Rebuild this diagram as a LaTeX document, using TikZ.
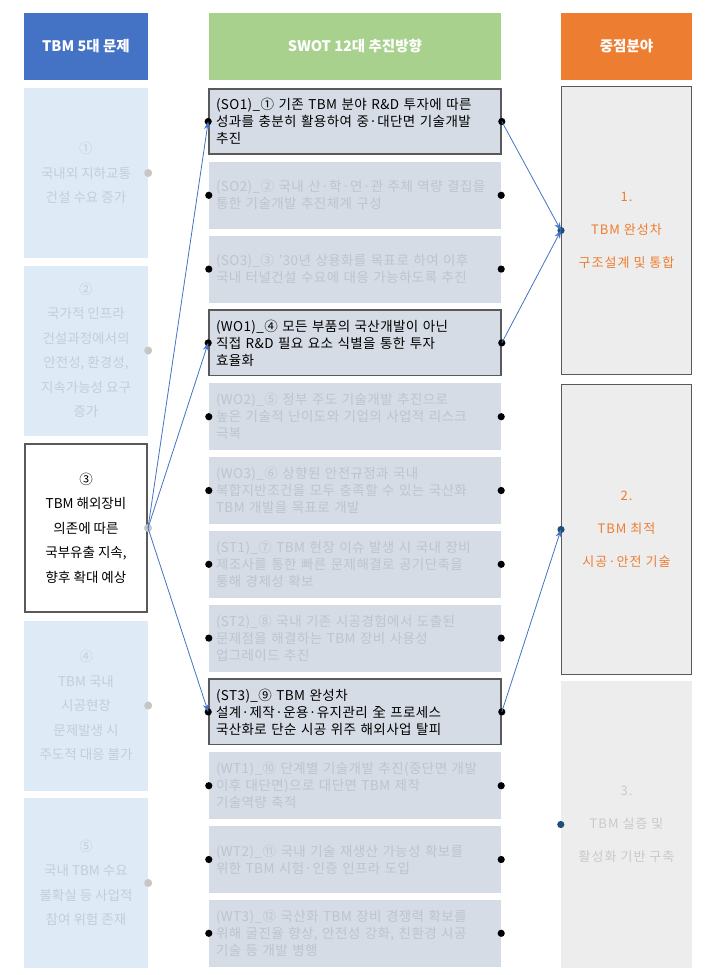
\documentclass[tikz,border=0pt]{standalone}
\usepackage{fontspec}
\setmainfont{Noto Sans CJK KR}
\usepackage{xcolor}
\usepackage{tikz}
\usetikzlibrary{arrows.meta}

\definecolor{hdrblue}{HTML}{4472C4}
\definecolor{hdrgreen}{HTML}{A9D18E}
\definecolor{hdrorange}{HTML}{ED7D31}
\definecolor{probfill}{HTML}{DEEBF7}
\definecolor{probfade}{HTML}{C4CDD8}
\definecolor{swotfill}{HTML}{D6DCE5}
\definecolor{swotfade}{HTML}{BEC4CD}
\definecolor{areafill}{HTML}{EDEDED}
\definecolor{areafade}{HTML}{C9C9C9}
\definecolor{keyline}{HTML}{595959}
\definecolor{areadot}{HTML}{1F4E79}

\tikzset{
  hdr/.style={minimum height=67pt, inner sep=0pt, text=white,
    font=\fontsize{14.5}{16}\selectfont\bfseries},
  probbox/.style={fill=probfill, minimum width=124pt, minimum height=170pt,
    inner sep=0pt, align=center, text=probfade,
    font=\fontsize{13.5}{24.5}\selectfont},
  probkey/.style={probbox, fill=white, draw=keyline, line width=1.6pt, text=black},
  swot/.style={fill=swotfill, minimum width=292pt, minimum height=67pt,
    text width=278pt, inner xsep=7pt, align=left, text=swotfade,
    font=\fontsize{13.5}{17}\selectfont\addfontfeature{LetterSpace=3}},
  swotkey/.style={swot, draw=keyline, line width=1.6pt, text=black},
  area/.style={fill=areafill, minimum width=131pt, minimum height=289pt,
    inner sep=0pt, align=center, text=areafade,
    font=\fontsize{13}{33}\selectfont\addfontfeature{LetterSpace=8}},
  areakey/.style={area, draw=keyline, line width=1.2pt, text=hdrorange},
  link/.style={hdrblue, line width=0.8pt, -{Stealth[length=8pt,width=6pt]}},
}

\begin{document}
\begin{tikzpicture}[x=1pt, y=-1pt]
  \useasboundingbox (0,0) rectangle (708,975);

  % headers
  \node[hdr, fill=hdrblue, minimum width=124pt] (h1) at (86,46.5) {TBM 5대 문제};
  \node[hdr, fill=hdrgreen, minimum width=292pt] (h2) at (355,46.5) {SWOT 12대 추진방향};
  \node[hdr, fill=hdrorange, minimum width=131pt] (h3) at (626.5,46.5) {중점분야};

  % 5대 문제
  \node[probbox] (p1) at (86,173) {①\\국내외 지하교통\\건설 수요 증가};
  \node[probbox] (p2) at (86,350.5) {②\\국가적 인프라\\건설과정에서의\\안전성, 환경성,\\지속가능성 요구\\증가};
  \node[probkey, minimum width=122.4pt, minimum height=168.4pt] (p3) at (86,528) {③\\TBM 해외장비\\의존에 따른\\국부유출 지속,\\향후 확대 예상};
  \node[probbox] (p4) at (86,705.5) {④\\TBM 국내\\시공현장\\문제발생 시\\주도적 대응 불가};
  \node[probbox] (p5) at (86,883) {⑤\\국내 TBM 수요\\불확실 등 사업적\\참여 위험 존재};

  % SWOT 12대 추진방향
  \node[swotkey, minimum width=290.4pt, minimum height=65.4pt] (so1) at (355,121.5) {(SO1)\_① 기존 TBM 분야 R\&D 투자에 따른\\성과를 충분히 활용하여 중·대단면 기술개발\\추진};
  \node[swot] (so2) at (355,195.3) {(SO2)\_② 국내 산·학·연·관 주체 역량 결집을\\통한 기술개발 추진체계 구성};
  \node[swot] (so3) at (355,269.1) {(SO3)\_③ ’30년 상용화를 목표로 하여 이후\\국내 터널건설 수요에 대응 가능하도록 추진};
  \node[swotkey, minimum width=290.4pt, minimum height=65.4pt] (wo1) at (355,342.9) {(WO1)\_④ 모든 부품의 국산개발이 아닌\\직접 R\&D 필요 요소 식별을 통한 투자\\효율화};
  \node[swot] (wo2) at (355,416.7) {(WO2)\_⑤ 정부 주도 기술개발 추진으로\\높은 기술적 난이도와 기업의 사업적 리스크\\극복};
  \node[swot] (wo3) at (355,490.5) {(WO3)\_⑥ 상향된 안전규정과 국내\\복합지반조건을 모두 충족할 수 있는 국산화\\TBM 개발을 목표로 개발};
  \node[swot] (st1) at (355,564.3) {(ST1)\_⑦ TBM 현장 이슈 발생 시 국내 장비\\제조사를 통한 빠른 문제해결로 공기단축을\\통해 경제성 확보};
  \node[swot] (st2) at (355,638.1) {(ST2)\_⑧ 국내 기존 시공경험에서 도출된\\문제점을 해결하는 TBM 장비 사용성\\업그레이드 추진};
  \node[swotkey, minimum width=290.4pt, minimum height=65.4pt] (st3) at (355,711.9) {(ST3)\_⑨ TBM 완성차\\설계·제작·운용·유지관리 全 프로세스\\국산화로 단순 시공 위주 해외사업 탈피};
  \node[swot] (wt1) at (355,785.7) {(WT1)\_⑩ 단계별 기술개발 추진(중단면 개발\\이후 대단면)으로 대단면 TBM 제작\\기술역량 축적};
  \node[swot] (wt2) at (355,859.5) {(WT2)\_⑪ 국내 기술 재생산 가능성 확보를\\위한 TBM 시험·인증 인프라 도입};
  \node[swot] (wt3) at (355,933.3) {(WT3)\_⑫ 국산화 TBM 장비 경쟁력 확보를\\위해 굴진율 향상, 안전성 강화, 친환경 시공\\기술 등 개발 병행};

  % 중점분야
  \node[areakey, minimum width=129.8pt, minimum height=287.8pt] (a1) at (626.5,230.5) {1.\\TBM 완성차\\구조설계 및 통합};
  \node[areakey, minimum width=129.8pt, minimum height=289.8pt] (a2) at (626.5,529.5) {2.\\TBM 최적\\시공·안전 기술};
  \node[area, minimum height=287pt] (a3) at (626.5,824.5) {3.\\TBM 실증 및\\활성화 기반 구축};

  % dots
  \foreach \n in {p1,p2,p3,p4,p5}
    \fill[gray!45] (\n.east) circle [radius=4];
  \foreach \n in {so1,so2,so3,wo1,wo2,wo3,st1,st2,st3,wt1,wt2,wt3} {
    \fill (\n.west) circle [radius=3.6];
    \fill (\n.east) circle [radius=3.6];
  }
  \foreach \n in {a1,a2,a3}
    \fill[areadot] (\n.west) circle [radius=3.6];

  % links
  \draw[link] (p3.east) -- (so1.west);
  \draw[link] (p3.east) -- (wo1.west);
  \draw[link] (p3.east) -- (st3.west);
  \draw[link] (so1.east) -- (a1.west);
  \draw[link] (wo1.east) -- (a1.west);
  \draw[link] (st3.east) -- (a2.west);
\end{tikzpicture}
\end{document}
